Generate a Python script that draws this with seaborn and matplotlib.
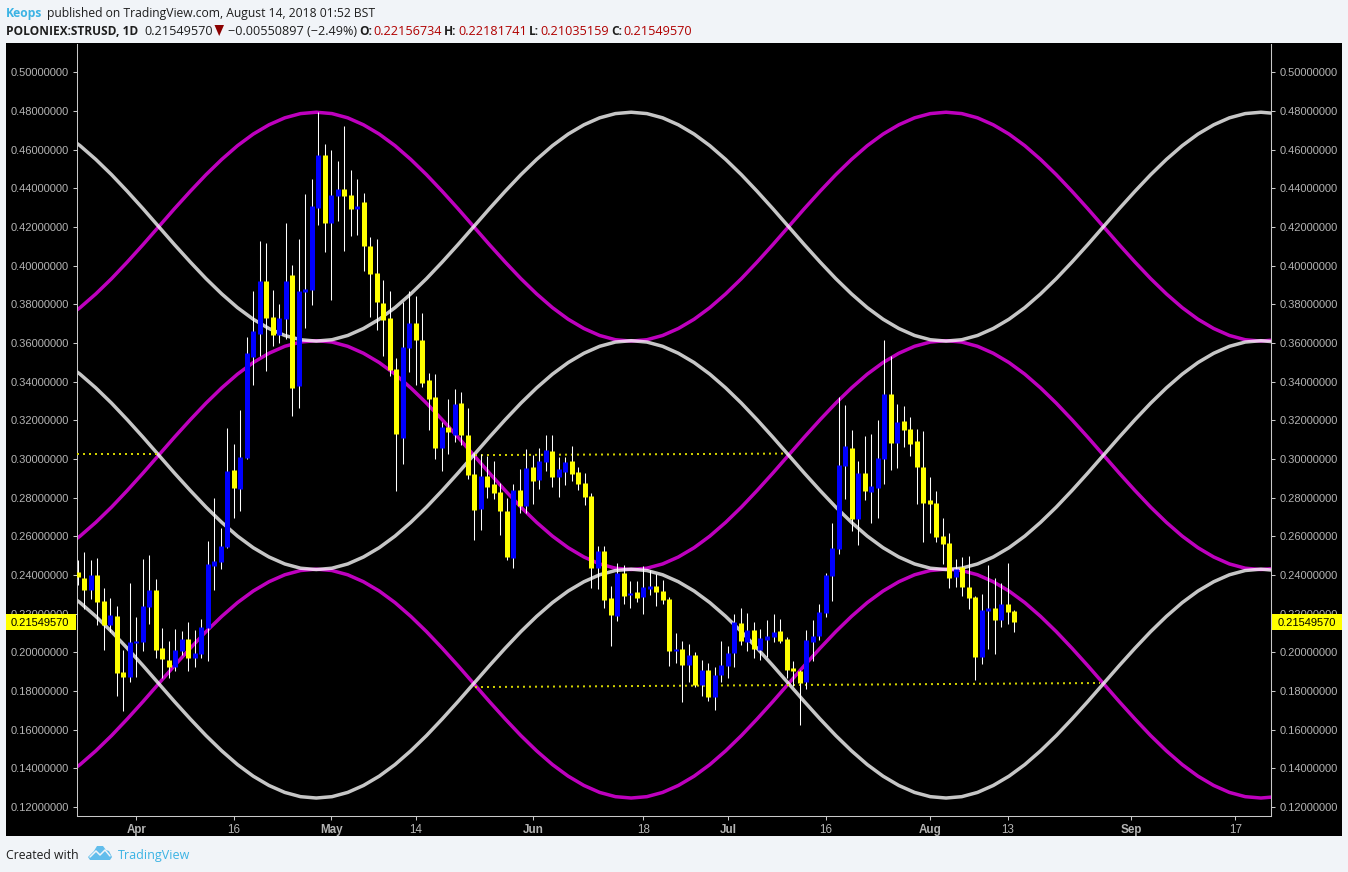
import numpy as np
import pandas as pd
import matplotlib
matplotlib.use("Agg")
import matplotlib.pyplot as plt
from matplotlib.patches import Rectangle, Polygon
import seaborn as sns

# ---- data ----
first_day = -9  # days relative to 1 Apr 2018
opens = [.2415,.2384,.2322,.2399,.2265,.2141,.2187,.1898,.1872,.2048,.2053,.2234,.2322,.2022,.1960,.1925,.2007,.2070,.1972,.1993,
 .2127,.2448,.2469,.2546,.2944,.2846,.3006,.3528,.3647,.3921,.3735,.3642,.3725,.3952,.3379,.3864,.3874,.4299,.4572,.4221,
 .4361,.4397,.4366,.4293,.4330,.4102,.3962,.3807,.3730,.3466,.3110,.3575,.3704,.3616,.3409,.3321,.3058,.3166,.3125,.3290,
 .3125,.2923,.2742,.2913,.2871,.2830,.2732,.2489,.2840,.2758,.2960,.2892,.2985,.3042,.2908,.2933,.2991,.2933,.2877,.2809,
 .2437,.2524,.2280,.2187,.2410,.2296,.2311,.2286,.2327,.2342,.2317,.2275,.2007,.2017,.1934,.1986,.1831,.1909,.1769,.1883,
 .1930,.1998,.2153,.2053,.2117,.2012,.2065,.2081,.2112,.2069,.1920,.1904,.1848,.2053,.2085,.2205,.2394,.2534,.2964,.3058,
 .2691,.2929,.2830,.2851,.3001,.3337,.3084,.3197,.3156,.3094,.2960,.2788,.2773,.2602,.2566,.2389,.2441,.2338,.2285,.1975,
 .2213,.2229,.2167,.2249,.22156734]
closes = [.2389,.2322,.2399,.2260,.2141,.2192,.1893,.1872,.2053,.2058,.2239,.2322,.2012,.1965,.1925,.2012,.2070,.1972,.1998,.2132,
 .2458,.2474,.2551,.2939,.2851,.3011,.3549,.3663,.3921,.3730,.3642,.3730,.3921,.3368,.3869,.3880,.4309,.4572,.4221,.4366,
 .4397,.4361,.4293,.4309,.4102,.3957,.3812,.3719,.3461,.3130,.3580,.3704,.3616,.3394,.3311,.3058,.3166,.3141,.3285,.3125,
 .2918,.2737,.2913,.2856,.2825,.2732,.2494,.2840,.2758,.2954,.2887,.2991,.3047,.2908,.2949,.2985,.2923,.2871,.2804,.2437,
 .2524,.2270,.2192,.2410,.2291,.2306,.2280,.2337,.2342,.2311,.2270,.2007,.2017,.1934,.1986,.1831,.1909,.1769,.1883,.1935,
 .1998,.2158,.2058,.2117,.2017,.2075,.2086,.2107,.2058,.1909,.1904,.1842,.2064,.2085,.2210,.2399,.2539,.2969,.3068,.2691,
 .2929,.2835,.2861,.3006,.3337,.3084,.3192,.3151,.3079,.2960,.2773,.2768,.2597,.2561,.2384,.2431,.2338,.2280,.1975,.2218,
 .2229,.2167,.2249,.2208,.21549570]
highs = [.2477,.2519,.2477,.2487,.2332,.2280,.2239,.2012,.2358,.2182,.2482,.2503,.2379,.2125,.2058,.2120,.2112,.2158,.2117,.2174,
 .2577,.2799,.2644,.3161,.3079,.3254,.3632,.3869,.4128,.4118,.3874,.3802,.4221,.4004,.4138,.4371,.4448,.4795,.4629,.4598,
 .4541,.4722,.4495,.4448,.4376,.4149,.4138,.3926,.3869,.3523,.3812,.3869,.3843,.3755,.3445,.3440,.3192,.3311,.3363,.3347,
 .3265,.3032,.3027,.3017,.2991,.2877,.2799,.2871,.2949,.3053,.3022,.3058,.3125,.3125,.3011,.3011,.3068,.2960,.2928,.2825,
 .2550,.2550,.2342,.2462,.2451,.2368,.2368,.2446,.2425,.2405,.2374,.2286,.2100,.2058,.2043,.2002,.1960,.1945,.1925,.2058,
 .2033,.2199,.2230,.2205,.2158,.2120,.2167,.2199,.2174,.2080,.1956,.1909,.2116,.2167,.2251,.2410,.2669,.3321,.3280,.3151,
 .2991,.3120,.3130,.3203,.3616,.3533,.3285,.3275,.3218,.3156,.3146,.2908,.2835,.2695,.2618,.2482,.2493,.2498,.2291,.2301,
 .2451,.2384,.2358,.2462,.22181741]
lows = [.2348,.2223,.2275,.2141,.2012,.2105,.1774,.1696,.1846,.1872,.2007,.2146,.1972,.1869,.1869,.1904,.1986,.1904,.1925,.1972,
 .1956,.2322,.2432,.2541,.2695,.2732,.3001,.3383,.3533,.3456,.3585,.3600,.3621,.3223,.3264,.3678,.3797,.4211,.4071,.3822,
 .4231,.4076,.4154,.4159,.3973,.3735,.3668,.3533,.3430,.2834,.2975,.3451,.3383,.3373,.3151,.3001,.2939,.3027,.3089,.3074,
 .2897,.2582,.2634,.2799,.2794,.2608,.2477,.2437,.2722,.2722,.2768,.2846,.2939,.2856,.2805,.2866,.2887,.2840,.2763,.2334,
 .2329,.2229,.2033,.2161,.2249,.2229,.2260,.2198,.2296,.2239,.2249,.1929,.1945,.1743,.1846,.1821,.1774,.1748,.1702,.1846,
 .1869,.1925,.2038,.2007,.1972,.1960,.1977,.2053,.2048,.1869,.1827,.1625,.1811,.1956,.2064,.2184,.2265,.2508,.2794,.2629,
 .2556,.2788,.2670,.2696,.2871,.2944,.2955,.3063,.3016,.2768,.2572,.2618,.2572,.2458,.2334,.2339,.2291,.2223,.1857,.1940,
 .2017,.1993,.2132,.2146,.21035159]

curve_days = [-11.05,-8.63,-6.21,-3.79,-1.37,1.05,3.47,5.89,8.32,10.74,13.16,15.58,18.00,20.42,22.85,25.27,27.69,
 30.11,32.53,34.95,37.37,39.80,42.22,44.64,47.06,49.48,51.90,54.32,56.74,59.16,61.58,64.01,66.43,68.85,71.27,73.69,76.11,
 78.53,80.95,83.37,85.79,88.21,90.64,93.06,95.48,97.90,100.32,102.74,105.16,107.58,110.00,112.42,114.85,117.27,119.69,122.11,124.53,
 126.95,129.37,131.79,134.21,136.64,139.06,141.48,143.90,146.32,148.74,151.16,153.58,156.00,158.42,160.85,163.27,165.69,168.11,170.53,172.95,
 175.37,177.79]
magenta_top = [.3723,.3783,.3854,.3933,.4019,.4109,.4202,.4295,.4385,.4471,.4550,.4621,.4681,.4729,.4765,.4787,.4794,
 .4787,.4765,.4729,.4681,.4621,.4550,.4471,.4385,.4295,.4202,.4109,.4019,.3933,.3854,.3783,.3723,.3675,.3639,.3617,.3610,
 .3617,.3639,.3675,.3723,.3783,.3854,.3933,.4019,.4109,.4202,.4295,.4385,.4471,.4550,.4621,.4681,.4729,.4765,.4787,.4794,
 .4787,.4765,.4729,.4681,.4621,.4550,.4471,.4385,.4295,.4202,.4109,.4019,.3933,.3854,.3783,.3723,.3675,.3639,.3617,.3610,
 .3617,.3639]
gray_top = [.4681,.4621,.4550,.4471,.4385,.4295,.4202,.4109,.4019,.3933,.3854,.3783,.3723,.3675,.3639,.3617,.3610,
 .3617,.3639,.3675,.3723,.3783,.3854,.3933,.4019,.4109,.4202,.4295,.4385,.4471,.4550,.4621,.4681,.4729,.4765,.4787,.4794,
 .4787,.4765,.4729,.4681,.4621,.4550,.4471,.4385,.4295,.4202,.4109,.4019,.3933,.3854,.3783,.3723,.3675,.3639,.3617,.3610,
 .3617,.3639,.3675,.3723,.3783,.3854,.3933,.4019,.4109,.4202,.4295,.4385,.4471,.4550,.4621,.4681,.4729,.4765,.4787,.4794,
 .4787,.4765]
magenta_mid = [.2541,.2601,.2672,.2751,.2837,.2927,.3020,.3113,.3203,.3289,.3368,.3439,.3499,.3547,.3583,.3605,.3612,
 .3605,.3583,.3547,.3499,.3439,.3368,.3289,.3203,.3113,.3020,.2927,.2837,.2751,.2672,.2601,.2541,.2493,.2457,.2435,.2428,
 .2435,.2457,.2493,.2541,.2601,.2672,.2751,.2837,.2927,.3020,.3113,.3203,.3289,.3368,.3439,.3499,.3547,.3583,.3605,.3612,
 .3605,.3583,.3547,.3499,.3439,.3368,.3289,.3203,.3113,.3020,.2927,.2837,.2751,.2672,.2601,.2541,.2493,.2457,.2435,.2428,
 .2435,.2457]
gray_mid = [.3499,.3439,.3368,.3289,.3203,.3113,.3020,.2927,.2837,.2751,.2672,.2601,.2541,.2493,.2457,.2435,.2428,
 .2435,.2457,.2493,.2541,.2601,.2672,.2751,.2837,.2927,.3020,.3113,.3203,.3289,.3368,.3439,.3499,.3547,.3583,.3605,.3612,
 .3605,.3583,.3547,.3499,.3439,.3368,.3289,.3203,.3113,.3020,.2927,.2837,.2751,.2672,.2601,.2541,.2493,.2457,.2435,.2428,
 .2435,.2457,.2493,.2541,.2601,.2672,.2751,.2837,.2927,.3020,.3113,.3203,.3289,.3368,.3439,.3499,.3547,.3583,.3605,.3612,
 .3605,.3583]
magenta_low = [.1359,.1419,.1490,.1569,.1655,.1745,.1838,.1931,.2021,.2107,.2186,.2257,.2317,.2365,.2401,.2423,.2430,
 .2423,.2401,.2365,.2317,.2257,.2186,.2107,.2021,.1931,.1838,.1745,.1655,.1569,.1490,.1419,.1359,.1311,.1275,.1253,.1246,
 .1253,.1275,.1311,.1359,.1419,.1490,.1569,.1655,.1745,.1838,.1931,.2021,.2107,.2186,.2257,.2317,.2365,.2401,.2423,.2430,
 .2423,.2401,.2365,.2317,.2257,.2186,.2107,.2021,.1931,.1838,.1745,.1655,.1569,.1490,.1419,.1359,.1311,.1275,.1253,.1246,
 .1253,.1275]
gray_low = [.2317,.2257,.2186,.2107,.2021,.1931,.1838,.1745,.1655,.1569,.1490,.1419,.1359,.1311,.1275,.1253,.1246,
 .1253,.1275,.1311,.1359,.1419,.1490,.1569,.1655,.1745,.1838,.1931,.2021,.2107,.2186,.2257,.2317,.2365,.2401,.2423,.2430,
 .2423,.2401,.2365,.2317,.2257,.2186,.2107,.2021,.1931,.1838,.1745,.1655,.1569,.1490,.1419,.1359,.1311,.1275,.1253,.1246,
 .1253,.1275,.1311,.1359,.1419,.1490,.1569,.1655,.1745,.1838,.1931,.2021,.2107,.2186,.2257,.2317,.2365,.2401,.2423,.2430,
 .2423,.2401]

dotted_a_days, dotted_a_vals = [-9.1, 3.7], [.3026, .3026]
dotted_b_days, dotted_b_vals = [52.1, 99.8], [.3020, .3028]
dotted_c_days, dotted_c_vals = [52.1, 148.2], [.1820, .1841]

tick_days = [0, 15, 30, 43, 61, 78, 91, 106, 122, 134, 153, 169]
tick_labels = ['Apr', '16', 'May', '14', 'Jun', '18', 'Jul', '16', 'Aug', '13', 'Sep', '17']
bold_labels = {'Apr', 'May', 'Jun', 'Jul', 'Aug', 'Sep'}
price_ticks = [0.12, 0.14, 0.16, 0.18, 0.20, 0.22, 0.24, 0.26, 0.28, 0.30, 0.32, 0.34, 0.36, 0.38, 0.40, 0.42, 0.44, 0.46, 0.48, 0.50]
last_price = 0.21549570

# ---- build ----
sns.set_theme(style="dark")
BG = '#f1f4f8'
W, H = 1348, 872
fig = plt.figure(figsize=(W / 100, H / 100), dpi=100, facecolor=BG)
LABEL = '#b4b4b4'
FRAME = '#c8c8c8'
SANS = ['Liberation Sans', 'DejaVu Sans']
HEAD = ['Open Sans', 'DejaVu Sans']

# pixel-space layer behind and in front of the plot
back = fig.add_axes([0, 0, 1, 1], zorder=0)
back.set_xlim(0, W); back.set_ylim(H, 0); back.axis('off')
back.add_patch(Rectangle((6, 43), 1336, 793, fc='black', ec='none'))

L, R, T, B = 77, 1271, 44, 816
ax = fig.add_axes([L / W, 1 - B / H, (R - L) / W, (B - T) / H], zorder=1)
ax.set_facecolor('black')
ax.set_xlim(-9.1, 174.5)
ax.set_ylim(0.1153, 0.5147)

days = [first_day + i for i in range(len(opens))]
candles = pd.DataFrame({'day': days, 'open': opens, 'high': highs, 'low': lows, 'close': closes})
candles['kind'] = np.where(candles['close'] >= candles['open'], 'up', 'down')
candles['candle'] = candles.index

curves = pd.DataFrame({'day': curve_days, 'magenta_top': magenta_top, 'gray_top': gray_top,
                       'magenta_mid': magenta_mid, 'gray_mid': gray_mid,
                       'magenta_low': magenta_low, 'gray_low': gray_low})
for name in ['magenta_top', 'magenta_mid', 'magenta_low', 'gray_top', 'gray_mid', 'gray_low']:
    col, alpha = ('#ff00ff', 0.75) if name.startswith('magenta') else ('#ffffff', 0.78)
    sns.lineplot(data=curves, x='day', y=name, color=col, alpha=alpha, linewidth=2.5, ax=ax,
                 estimator=None, sort=False, legend=False, zorder=2)

for dx, dy in [(dotted_a_days, dotted_a_vals), (dotted_b_days, dotted_b_vals), (dotted_c_days, dotted_c_vals)]:
    sns.lineplot(x=dx, y=dy, color='#d0d000', linewidth=1.44, linestyle=(0, (1, 2)), ax=ax,
                 estimator=None, sort=False, legend=False, zorder=3)

wicks = candles.melt(id_vars=['day', 'candle'], value_vars=['high', 'low'], value_name='price')
sns.lineplot(data=wicks, x='day', y='price', units='candle', color='white', linewidth=0.75, ax=ax,
             estimator=None, sort=False, legend=False, zorder=4, solid_capstyle='butt')
bodies = candles.melt(id_vars=['day', 'candle', 'kind'], value_vars=['open', 'close'], value_name='price')
sns.lineplot(data=bodies, x='day', y='price', units='candle', hue='kind',
             palette={'up': '#0000ff', 'down': '#ffff00'}, linewidth=3.6, ax=ax,
             estimator=None, sort=False, legend=False, zorder=5, solid_capstyle='butt')

ax.set_xlim(-9.1, 174.5)
ax.set_ylim(0.1153, 0.5147)
ax.set_xlabel(''); ax.set_ylabel('')
ax.grid(False)
ax.set_xticks(tick_days)
ax.set_xticklabels(tick_labels, family=SANS, fontsize=8.4, color=LABEL)
for t in ax.get_xticklabels():
    if t.get_text() in bold_labels:
        t.set_fontweight('bold')
ax.set_yticks(price_ticks)
ax.set_yticklabels([f'{p:.8f}' for p in price_ticks], family=SANS, fontsize=8, color=LABEL)
ax.tick_params(axis='x', length=3, width=0.75, color=FRAME, pad=2.5, bottom=True)
ax.tick_params(axis='y', length=3, width=0.75, color=FRAME, pad=3, left=True)
rax = ax.secondary_yaxis('right')
rax.set_yticks(price_ticks)
rax.set_yticklabels([f'{p:.8f}' for p in price_ticks], family=SANS, fontsize=8, color=LABEL)
rax.tick_params(axis='y', length=3, width=0.75, color=FRAME, pad=3, right=True)
rax.spines['right'].set_color(FRAME); rax.spines['right'].set_linewidth(0.75)
for s in ['left', 'right', 'bottom']:
    ax.spines[s].set_visible(True); ax.spines[s].set_color(FRAME); ax.spines[s].set_linewidth(0.75)
ax.spines['top'].set_visible(False)

# front layer: price boxes, header and footer
top = fig.add_axes([0, 0, 1, 1], zorder=3)
top.set_xlim(0, W); top.set_ylim(H, 0); top.axis('off'); top.patch.set_alpha(0)
for x0, x1, xt in [(6, 76, 11), (1272, 1342, 1278)]:
    top.add_patch(Rectangle((x0, 614), x1 - x0, 16, fc='#ffff00', ec='none'))
    top.text(xt, 622, f'{last_price:.8f}', family=SANS, fontsize=8, color='black', va='center_baseline', ha='left')

BLUE = '#3bb3e4'
RED = '#b00000'
def put(x, y, s, color='#1e1e1e', weight='normal', size=8.75):
    top.text(x, y, s, family=HEAD, fontsize=size, color=color, fontweight=weight, va='center_baseline', ha='left')

put(6, 12, 'Keops', BLUE, 'bold')
put(47, 12, 'published on TradingView.com, August 14, 2018 01:52 BST')
put(6, 30, 'POLONIEX:STRUSD, 1D', weight='bold', size=8.6)
put(144, 30, '0.21549570', size=9.1)
top.add_patch(Polygon([(214.5, 25), (224, 25), (219.2, 36)], fc='#8b0000', ec='none'))
put(228, 30, '\u22120.00550897 (\u22122.49%)', size=9.1)
for xa, lab, xv, val in [(359, 'O:', 373, '0.22156734'), (444, 'H:', 458, '0.22181741'),
                         (529, 'L:', 540, '0.21035159'), (611, 'C:', 623, '0.21549570')]:
    put(xa, 30, lab, weight='bold', size=8.6)
    put(xv, 30, val, RED, size=9.1)

put(6, 854, 'Created with', size=8.8)
put(118, 854, 'TradingView', BLUE, size=9)
top.add_patch(Polygon([(88, 857), (94, 851), (97, 846), (103, 846), (106, 850), (109, 851), (112, 857), (110, 860), (90, 860)],
                      fc='#62bdec', ec='none'))
top.plot([90, 96, 100, 105, 110], [857, 851, 855, 850, 856], color=BG, lw=1.1)
top.set_xlim(0, W); top.set_ylim(H, 0)

fig.savefig('out.png', dpi=100, facecolor=BG)
